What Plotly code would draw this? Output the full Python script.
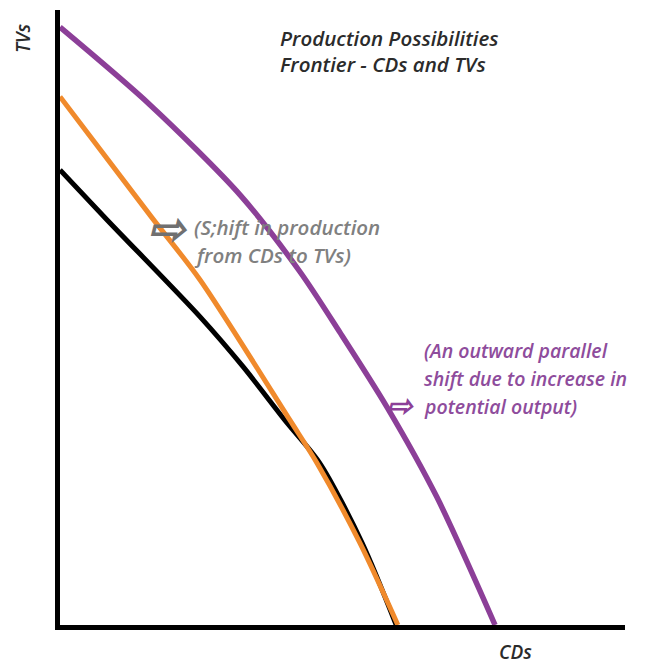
import plotly.graph_objects as go

# ---- Data (arbitrary units: CDs on x, TVs on y) ----
cds_original = [0, 8.3, 24.8, 32.4, 39.8, 46.0, 53.5, 59.5]
tvs_original = [74.0, 65.9, 50.1, 42.0, 33.3, 26.3, 13.3, 0]

cds_tv_shift = [0, 16.3, 24.8, 40.7, 45.5, 53.1, 59.8]
tvs_tv_shift = [85.9, 66.2, 56.1, 33.3, 26.3, 13.3, 0]

cds_outward = [0, 15.9, 31.9, 42.5, 49.6, 57.9, 66.7, 77.0]
tvs_outward = [97.2, 84.6, 69.9, 57.4, 47.5, 35.4, 20.8, 0]

title_lines = ["Production Possibilities", "Frontier - CDs and TVs"]
gray_lines = ["(S;hift in production", "from CDs to TVs)"]
purple_lines = ["(An outward parallel", "shift due to increase in", "potential output)"]

# ---- Layout geometry (page body has an 8px margin) ----
OFF = 8
WIN_W, WIN_H = 655, 666
W, H = WIN_W - OFF, WIN_H - OFF
PLOT_L, PLOT_R, PLOT_T, PLOT_B = 60, 625, 10, 625   # plot area in window pixels
L = PLOT_L - OFF
T = PLOT_T - OFF
R = WIN_W - PLOT_R
B = WIN_H - PLOT_B
PW, PH = PLOT_R - PLOT_L, PLOT_B - PLOT_T

BLACK = "#000000"
ORANGE = "#f08a2c"
PURPLE = "#8c3f98"
PURPLE_TXT = "#8e4c9c"
GRAY_TXT = "#808080"


def px(x, y):
    """window pixel position -> paper coordinates"""
    return (x - PLOT_L) / PW, (PLOT_B - y) / PH


fig = go.Figure()
line_common = dict(shape="spline", smoothing=0.8)
fig.add_trace(go.Scatter(x=cds_original, y=tvs_original, mode="lines",
                         line=dict(color=BLACK, width=5, **line_common), hoverinfo="skip"))
fig.add_trace(go.Scatter(x=cds_tv_shift, y=tvs_tv_shift, mode="lines",
                         line=dict(color=ORANGE, width=5, **line_common), hoverinfo="skip"))
fig.add_trace(go.Scatter(x=cds_outward, y=tvs_outward, mode="lines",
                         line=dict(color=PURPLE, width=5.5, **line_common), hoverinfo="skip"))

font_base = dict(family="Open Sans", style="italic", weight=600)
ann = []


def text(s, x, y, color, size, xanchor="left", angle=0):
    px_, py_ = px(x, y)
    ann.append(dict(text=s, x=px_, y=py_, xref="paper", yref="paper",
                    xanchor=xanchor, yanchor="middle", showarrow=False,
                    textangle=angle,
                    font=dict(color=color, size=size, **font_base)))


text(title_lines[0], 278, 38, "#2b2b2b", 20.5)
text(title_lines[1], 278, 64, "#2b2b2b", 20.5)
text(gray_lines[0], 192, 227, GRAY_TXT, 20.5)
text(gray_lines[1], 192, 255, GRAY_TXT, 20.5)
for i, s in enumerate(purple_lines):
    text(s, 422, 350 + 28 * i, PURPLE_TXT, 19.5)
text("CDs", 515, 652, "#2b2b2b", 19, xanchor="center")
text("TVs", 23, 38, "#2b2b2b", 19, xanchor="center", angle=-90)
# hollow block arrows
text("⇨", 168, 227, "#707070", 44, xanchor="center")
text("⇨", 400, 404, PURPLE, 30, xanchor="center")

fig.update_layout(
    width=W, height=H, autosize=False,
    margin=dict(l=L, r=R, t=T, b=B, pad=0),
    paper_bgcolor="white", plot_bgcolor="white",
    showlegend=False,
    annotations=ann,
    xaxis=dict(range=[0, 100], showgrid=False, zeroline=False, showticklabels=False,
               ticks="", showline=True, linecolor=BLACK, linewidth=5, fixedrange=True),
    yaxis=dict(range=[0, 100], showgrid=False, zeroline=False, showticklabels=False,
               ticks="", showline=True, linecolor=BLACK, linewidth=5, fixedrange=True),
)

fig.write_html("out.html")
